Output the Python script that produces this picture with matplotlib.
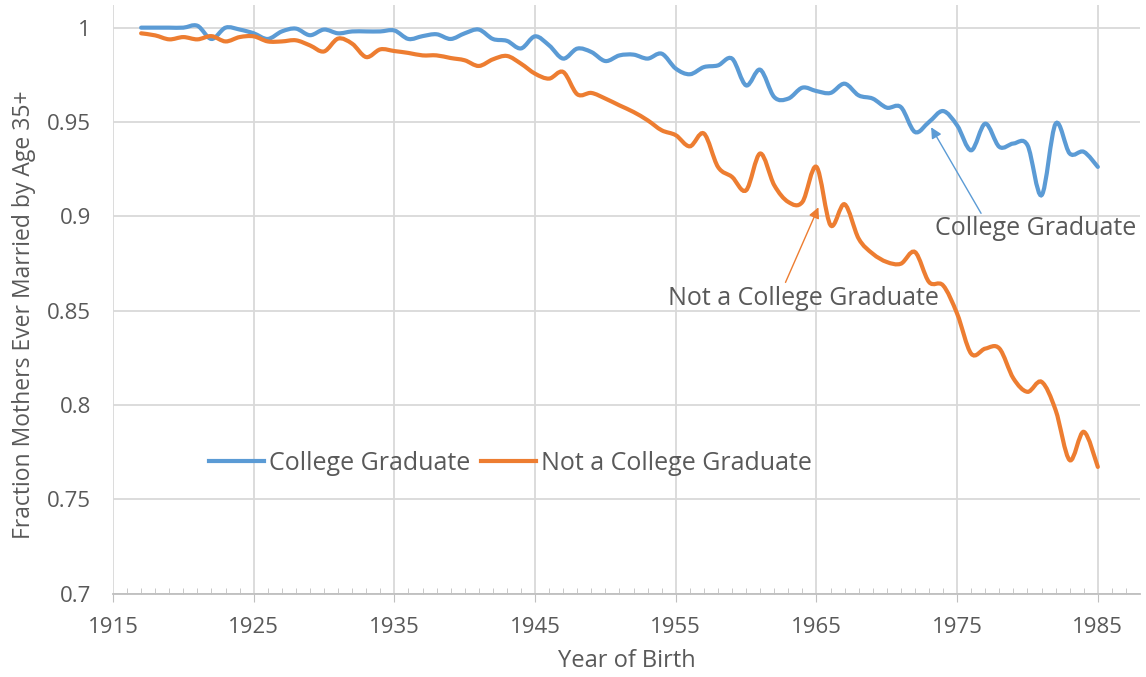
import numpy as np
import matplotlib
matplotlib.use("Agg")
import matplotlib.pyplot as plt
from matplotlib.path import Path
from matplotlib.patches import PathPatch
from matplotlib.lines import Line2D

years = list(range(1917, 1986))

college = [1.000, 1.000, 1.000, 1.000, 1.001, 0.994, 1.000, 0.999, 0.997, 0.994,
           0.998, 0.9995, 0.996, 0.999, 0.997, 0.998, 0.998, 0.998, 0.9985, 0.994,
           0.9955, 0.9965, 0.994, 0.997, 0.999, 0.994, 0.993, 0.989, 0.9954, 0.9906,
           0.9836, 0.9889, 0.9871, 0.9823, 0.9853, 0.9857, 0.9836, 0.9862, 0.9783, 0.9753,
           0.9791, 0.980, 0.9836, 0.9694, 0.9777, 0.9632, 0.9624, 0.9682, 0.9664, 0.9654,
           0.9703, 0.9641, 0.9624, 0.9576, 0.9579, 0.9447, 0.950, 0.9558, 0.9482, 0.935,
           0.9491, 0.9368, 0.9386, 0.9377, 0.9112, 0.9491, 0.9333, 0.9342, 0.9262]

not_college = [0.997, 0.9959, 0.9938, 0.995, 0.9938, 0.9955, 0.9927, 0.995, 0.9954, 0.9927,
               0.9927, 0.9933, 0.9906, 0.9874, 0.9942, 0.9915, 0.9844, 0.9885, 0.9876, 0.9866,
               0.9853, 0.9853, 0.9839, 0.9827, 0.9797, 0.9832, 0.985, 0.9809, 0.9756, 0.973,
               0.9765, 0.9647, 0.9654, 0.9624, 0.9588, 0.9553, 0.9509, 0.9456, 0.943, 0.9371,
               0.9439, 0.9262, 0.9209, 0.9138, 0.9333, 0.9165, 0.9076, 0.9076, 0.9262, 0.8953,
               0.9064, 0.8882, 0.8802, 0.8758, 0.8749, 0.8811, 0.8652, 0.8634, 0.8484, 0.8272,
               0.8299, 0.830, 0.8141, 0.807, 0.8123, 0.7973, 0.7708, 0.7858, 0.7672]

blue = "#5B9BD5"
orange = "#ED7D31"
grey = "#595959"

plt.rcParams['font.family'] = ['Open Sans', 'DejaVu Sans']


def smooth_path(x, y):
    # Excel-style smoothed line: Catmull-Rom segments as cubic Beziers
    pts = np.column_stack([x, y]).astype(float)
    ext = np.vstack([pts[0], pts, pts[-1]])
    verts = [pts[0]]
    codes = [Path.MOVETO]
    for i in range(1, len(ext) - 2):
        p0, p1, p2, p3 = ext[i - 1], ext[i], ext[i + 1], ext[i + 2]
        verts += [p1 + (p2 - p0) / 6, p2 - (p3 - p1) / 6, p2]
        codes += [Path.CURVE4] * 3
    return Path(verts, codes)


fig, ax = plt.subplots(figsize=(11.46, 6.77), dpi=100)
fig.subplots_adjust(left=0.0986, right=0.9948, bottom=0.123, top=0.9926)

for ys, c in [(college, blue), (not_college, orange)]:
    ax.add_patch(PathPatch(smooth_path(years, ys), facecolor="none",
                           edgecolor=c, lw=3, capstyle="round", zorder=3))

ax.set_xlim(1915, 1988)
ax.set_ylim(0.7, 1.012)
ax.set_xticks(range(1915, 1986, 10))
ax.set_xticks(range(1915, 1988), minor=True)
ax.set_yticks([0.7, 0.75, 0.8, 0.85, 0.9, 0.95, 1.0])
ax.set_yticklabels(["0.7", "0.75", "0.8", "0.85", "0.9", "0.95", "1"])
ax.grid(True, which="major", color="#d9d9d9", lw=1.3)
ax.set_axisbelow(True)

for s in ["top", "right", "left"]:
    ax.spines[s].set_visible(False)
ax.spines["bottom"].set_color("#bfbfbf")
ax.spines["bottom"].set_linewidth(1.3)
ax.tick_params(axis="x", which="major", direction="out", length=6, color="#bfbfbf",
               labelsize=16, labelcolor=grey, pad=11)
ax.tick_params(axis="x", which="minor", direction="in", length=4, color="#bfbfbf")
ax.tick_params(axis="y", length=0, labelsize=16, labelcolor=grey, pad=16)

ax.set_xlabel("Year of Birth", fontsize=17, color=grey, labelpad=8)
ax.set_ylabel("Fraction Mothers Ever Married by Age 35+", fontsize=16.5, color=grey)
ax.yaxis.set_label_coords(-0.075, 0.474)

handles = [Line2D([], [], color=blue, lw=3), Line2D([], [], color=orange, lw=3)]
ax.legend(handles, ["College Graduate", "Not a College Graduate"], loc="center",
          bbox_to_anchor=(0.387, 0.222), ncol=2, frameon=False, fontsize=18,
          labelcolor=grey, handlelength=2.2, handletextpad=0.2, columnspacing=0.4)

ax.text(1980.6, 0.8937, "College Graduate", ha="center", va="center",
        fontsize=18, color=grey)
ax.annotate("", xy=(1973.15, 0.9472), xytext=(1976.7, 0.9016),
            arrowprops=dict(arrowstyle="-|>", color=blue, lw=1, mutation_scale=16,
                            shrinkA=0, shrinkB=0))
ax.text(1964.1, 0.8566, "Not a College Graduate", ha="center", va="center",
        fontsize=18, color=grey)
ax.annotate("", xy=(1965.14, 0.9048), xytext=(1962.8, 0.865),
            arrowprops=dict(arrowstyle="-|>", color=orange, lw=1, mutation_scale=16,
                            shrinkA=0, shrinkB=0))

fig.savefig("out.png", dpi=100)
